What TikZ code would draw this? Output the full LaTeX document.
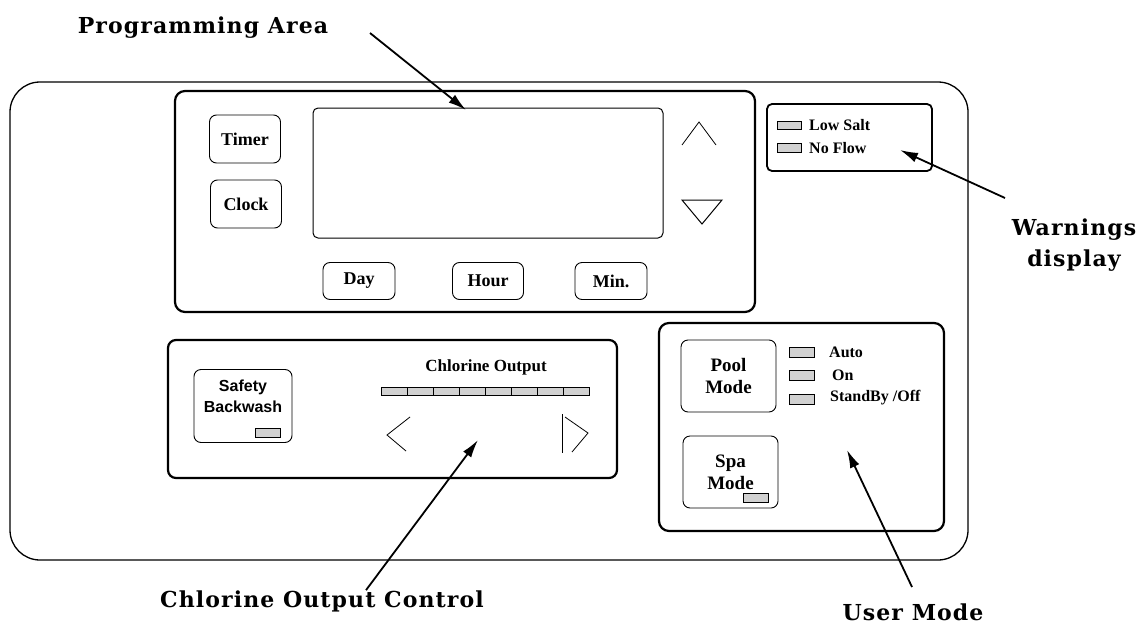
\documentclass[tikz,border=0pt]{standalone}
\usepackage{fontspec}
\setmainfont{Liberation Serif}
\newfontfamily\calloutfont{DejaVu Serif}[LetterSpace=5]
\newfontfamily\backwashfont{Liberation Sans}
\usetikzlibrary{arrows.meta}

\begin{document}
\begin{tikzpicture}[x=1pt, y=-1pt,
  panel/.style={draw, line width=2.2pt, rounded corners=10pt},
  btn/.style={draw, line width=0.9pt, rounded corners=7pt, inner sep=0pt, align=center,
    font=\fontsize{18}{22}\selectfont\bfseries},
  led/.style={draw, fill=black!18, line width=0.8pt, minimum width=25pt, minimum height=9pt, inner sep=0pt},
  tag/.style={inner sep=0pt, font=\fontsize{16}{18}\selectfont\bfseries},
  callout/.style={inner sep=0pt, align=center, font=\calloutfont\fontsize{22}{31}\selectfont\bfseries},
  pointer/.style={line width=1.8pt, -{Latex[length=18pt,width=10pt]}}]
  \useasboundingbox (0,0) rectangle (1142,626);

  \draw[line width=1.3pt, rounded corners=30pt] (10,82) rectangle (968,560); % Housing

  % Programming area
  \draw[panel] (175,91) rectangle (755,312);
  \draw[line width=1pt, rounded corners=5pt] (313,108) rectangle (663,238); % Display
  \node[btn, minimum width=71pt, minimum height=48pt] (timer) at (245,139) {Timer};
  \node[btn, minimum width=71pt, minimum height=48pt] (clock) at (246,204) {Clock};
  \node[btn, minimum width=72pt, minimum height=37pt] (day) at (359,281) {Day};
  \node[btn, minimum width=71pt, minimum height=37pt] (hour) at (488,281) {Hour};
  \node[btn, minimum width=72pt, minimum height=37pt] (min) at (611,281) {Min.};
  \draw[line width=0.8pt] (682,145) -- (699,122) -- (716,145);            % Up
  \draw[line width=1pt] (682,200) -- (722,200) -- (702,224) -- cycle;     % Down

  % Warnings
  \draw[panel, line width=1.8pt, rounded corners=5pt] (767,104) rectangle (932,171);
  \node[led, minimum width=24pt, minimum height=8pt] (lowled) at (789,125) {};
  \node[led, minimum width=24pt, minimum height=9pt] (flowled) at (789,148) {};
  \node[tag, anchor=west] (lowsalt) at (809,125) {Low Salt};
  \node[tag, anchor=west] (noflow) at (809,148) {No Flow};

  % Chlorine output
  \draw[panel, rounded corners=8pt] (168,340) rectangle (617,478);
  \node[btn, minimum width=98pt, minimum height=73pt] (safety) at (243,406) {};
  \node[inner sep=0pt, align=center, font=\backwashfont\fontsize{16}{21}\selectfont\bfseries] (safetytxt) at (243,396) {Safety\\Backwash};
  \node[led] (safetyled) at (267.5,433) {};
  \node[tag, font=\fontsize{17}{19}\selectfont\bfseries] (chlortitle) at (486,367) {Chlorine Output};
  \foreach \i in {0,...,7}
    \node[led, minimum width=26.1pt, minimum height=8pt] (bar\i) at ({394.05+26.1*\i},391) {};
  \draw[line width=0.8pt] (410,417) -- (387,435) -- (406,451);             % Left
  \draw[line width=1pt] (562,414) -- (562,453);
  \draw[line width=0.8pt] (565,417) -- (588,433) -- (572,452);             % Right

  % User mode
  \draw[panel] (659,323) rectangle (944,531);
  \node[btn, minimum width=95pt, minimum height=72pt, font=\fontsize{19}{22}\selectfont\bfseries] (pool) at (728.5,376) {Pool\\Mode};
  \node[btn, minimum width=95pt, minimum height=72pt, font=\fontsize{19}{22}\selectfont\bfseries] (spa) at (730.5,472) {Spa\\Mode};
  \node[led] (spaled) at (755.5,498) {};
  \node[led, minimum height=10pt] (autoled) at (801.5,352) {};
  \node[led, minimum height=10pt] (onled) at (801.5,375) {};
  \node[led, minimum height=10pt] (offled) at (801.5,399) {};
  \node[tag, anchor=west] (auto) at (829,352) {Auto};
  \node[tag, anchor=west] (on) at (832,375) {On};
  \node[tag, anchor=west] (off) at (830,398) {StandBy /Off};

  % Callouts
  \node[callout] (lblprog) at (203,28) {Programming Area};
  \node[callout] (lblwarn) at (1074,245) {Warnings\\display};
  \node[callout] (lblchlor) at (322,601) {Chlorine Output Control};
  \node[callout] (lbluser) at (913,612) {User Mode};

  \coordinate (progtail) at (370,33);
  \coordinate (progtip) at (466,110);
  \coordinate (warntail) at (1005,198);
  \coordinate (warntip) at (900,150);
  \coordinate (chlortip) at (478,440);
  \coordinate (usertail) at (912,587);
  \coordinate (usertip) at (847,450);
  \draw[pointer] (progtail) -- (progtip);
  \draw[pointer] (warntail) -- (warntip);
  \draw[pointer] ([xshift=44pt]lblchlor.north) -- (chlortip);
  \draw[pointer] (usertail) -- (usertip);
\end{tikzpicture}
\end{document}
